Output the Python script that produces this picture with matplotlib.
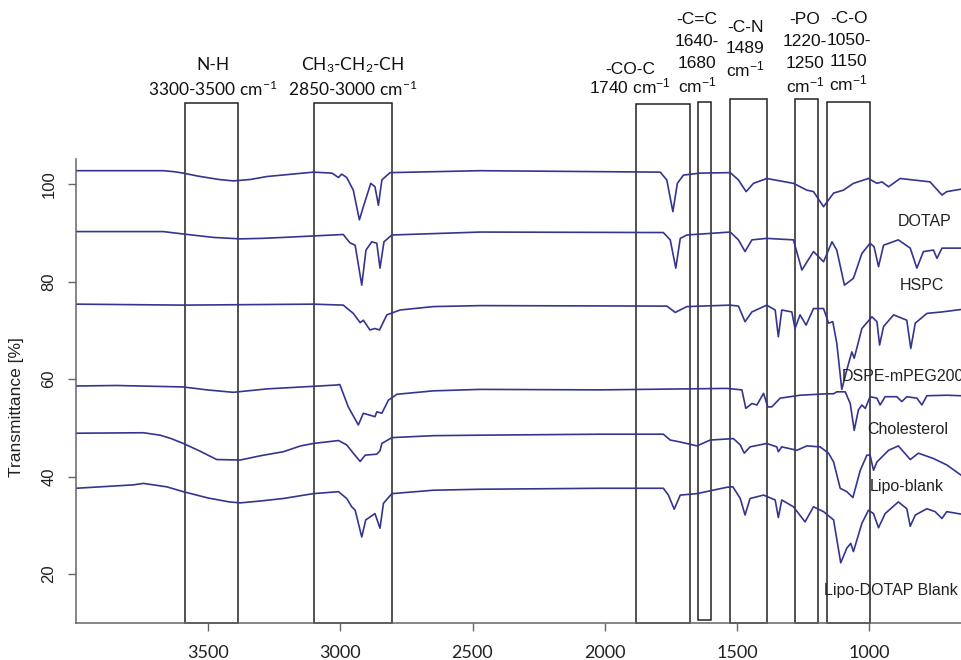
#!/usr/bin/env python3
# -*- coding: utf-8 -*-
"""
FTIR spectra of the liposome components, stacked, with the assigned
absorption bands marked by boxes.
"""

import matplotlib
matplotlib.use('Agg')
import matplotlib.pyplot as PyPlot
from matplotlib.patches import Rectangle

PyPlot.rcParams['mathtext.default'] = 'regular'

# Spectra: wavenumber [cm-1] and transmittance [%]
dotapWn = [4000, 3670, 3630, 3594, 3540, 3460, 3405, 3340, 3278, 3200,
           3102, 3032, 3007, 2995, 2976,
           2951, 2928, 2913, 2885, 2869, 2856, 2843, 2812, 2471, 1790,
           1765, 1742, 1725, 1702, 1639, 1525, 1494, 1465, 1437, 1387,
           1286, 1235, 1210, 1172, 1134, 1097, 1059, 1002, 970, 951,
           926, 882, 769, 724, 706, 652]
dotapT = [102.8, 102.8, 102.6, 102.3, 101.7, 101.0, 100.7, 101.0, 101.6, 102.0,
          102.5, 102.3, 101.4, 102.1, 101.4,
          98.8, 92.7, 95.4, 100.2, 99.5, 95.7, 100.9, 102.4, 102.8, 102.5,
          100.9, 94.4, 100.2, 101.9, 102.3, 102.4, 100.9, 98.5, 100.2, 101.2,
          100.2, 98.8, 98.5, 95.4, 98.2, 98.8, 100.2, 101.2, 100.2, 100.5,
          99.5, 101.2, 100.5, 97.8, 98.5, 99.0]

hspcWn = [4000, 3670, 3594, 3480, 3379, 3300, 3216, 2989, 2964, 2944,
          2919, 2903,
          2881, 2862, 2850, 2835, 2805, 2471, 1778, 1752, 1731, 1714,
          1689, 1525, 1494, 1469, 1443, 1387, 1286, 1254, 1210, 1172,
          1140, 1122, 1093, 1059, 1027, 996, 981, 964, 945, 889,
          844, 819, 794, 756, 743, 724, 693, 652]
hspcT = [90.3, 90.3, 89.8, 89.1, 88.8, 88.9, 89.1, 89.7, 88.0, 87.5,
         79.3, 86.5,
         88.2, 87.9, 82.8, 88.2, 89.6, 90.2, 90.1, 88.6, 82.8, 88.9,
         89.6, 90.2, 88.6, 86.2, 88.6, 88.9, 88.6, 82.4, 86.2, 84.1,
         88.2, 86.5, 79.3, 80.7, 85.8, 87.9, 87.2, 83.1, 87.5, 88.6,
         86.9, 82.8, 86.2, 86.5, 84.8, 86.9, 86.9, 86.9]

dspeWn = [4000, 3594, 3102, 2989, 2951, 2925, 2913, 2888, 2869, 2852,
          2824, 2774, 2648, 2471, 1765, 1733, 1689, 1525, 1494, 1469,
          1443, 1387, 1355, 1343, 1330, 1292, 1280, 1261, 1238, 1210,
          1172, 1153, 1137, 1122, 1103, 1084, 1065, 1056, 1027, 989,
          970, 960, 945, 907, 857, 842, 825, 781, 724, 652]
dspeT = [75.4, 75.2, 75.4, 75.2, 73.5, 71.6, 72.1, 70.1, 70.4, 70.1,
         73.2, 74.2, 74.9, 75.1, 75.0, 73.7, 74.9, 75.2, 75.0, 71.8,
         73.8, 75.2, 74.2, 68.7, 74.2, 73.8, 70.4, 73.2, 71.1, 74.5,
         74.5, 71.5, 71.8, 67.4, 57.9, 61.9, 65.6, 64.3, 70.4, 72.8,
         71.8, 67.0, 70.8, 73.2, 72.1, 66.3, 71.5, 73.5, 73.8, 74.3]

cholWn = [4000, 3846, 3594, 3505, 3405, 3278, 3014, 3002, 2970, 2932,
          2913, 2888, 2869, 2862, 2843, 2818, 2786, 2648, 2471, 2017,
          1538, 1481, 1466, 1443, 1424, 1399, 1383, 1368, 1336, 1261,
          1160, 1134, 1122, 1090, 1071, 1056, 1040, 1027, 1014, 996,
          970, 958, 939, 895, 876, 857, 819, 800, 781, 706, 652]
cholT = [58.6, 58.7, 58.4, 57.8, 57.3, 58.0, 58.8, 58.9, 54.3, 50.6,
         53.0, 52.6, 52.3, 53.3, 53.0, 55.7, 56.9, 57.6, 57.9, 57.8,
         58.1, 57.8, 54.0, 55.0, 54.7, 57.1, 54.3, 54.3, 56.1, 56.7,
         57.0, 57.0, 57.4, 57.4, 55.0, 49.5, 53.7, 54.7, 54.0, 56.4,
         56.1, 54.7, 56.4, 56.4, 55.4, 56.4, 56.1, 54.7, 56.6, 56.7, 56.6]

lipoWn = [4000, 3745, 3682, 3640, 3594, 3530, 3468, 3379, 3300, 3216,
          3150, 3102, 3007, 2976,
          2951, 2925, 2906, 2862, 2850, 2843, 2805, 2648, 2471, 2017,
          1778, 1752, 1714, 1651, 1601, 1513, 1487, 1472, 1450, 1387,
          1349, 1343, 1330, 1273, 1235, 1185, 1153, 1134, 1109, 1084,
          1061, 1033, 1008, 996, 983, 970, 926, 889, 844, 813,
          756, 706, 652]
lipoT = [48.9, 49.0, 48.5, 47.8, 46.8, 45.2, 43.5, 43.4, 44.3, 45.1,
         46.3, 46.8, 47.4, 46.5,
         44.8, 43.1, 44.4, 44.6, 45.3, 46.8, 48.0, 48.4, 48.5, 48.7,
         48.7, 47.5, 47.1, 46.3, 47.5, 47.8, 46.5, 44.8, 46.1, 46.8,
         46.1, 45.1, 46.1, 45.4, 46.3, 46.1, 44.8, 43.0, 37.6, 36.9,
         35.7, 41.3, 44.4, 44.4, 41.3, 43.0, 45.4, 46.3, 43.5, 44.8,
         43.7, 42.4, 40.3]

lipoDotapWn = [4000, 3783, 3745, 3657, 3594, 3500, 3420, 3379, 3300, 3216,
               3102, 3007, 2976,
               2957, 2944, 2919, 2904, 2869, 2850, 2837, 2805, 2648, 2471,
               2017, 1778, 1759, 1737, 1714, 1651, 1538, 1515, 1487, 1469,
               1450, 1399, 1355, 1343, 1330, 1286, 1242, 1210, 1172, 1134,
               1107, 1084, 1069, 1059, 1027, 1002, 983, 964, 939, 889,
               857, 844, 825, 781, 750, 724, 706, 652]
lipoDotapT = [37.6, 38.3, 38.6, 37.9, 36.9, 35.6, 34.8, 34.6, 35.0, 35.5,
              36.5, 36.9, 35.5,
              33.8, 33.1, 27.6, 31.1, 32.4, 29.4, 34.5, 36.5, 37.2, 37.4,
              37.6, 37.6, 36.2, 33.3, 36.2, 36.5, 37.8, 37.9, 35.5, 32.1,
              35.5, 36.2, 35.2, 31.6, 35.2, 33.8, 30.7, 33.8, 32.8, 31.1,
              22.3, 25.3, 26.3, 24.6, 30.4, 33.1, 32.4, 29.5, 32.4, 34.8,
              33.4, 29.8, 32.1, 33.4, 32.8, 31.4, 32.8, 32.3]

sampleNames = ['DOTAP', 'HSPC', 'DSPE-mPEG2000', 'Cholesterol',
               'Lipo-blank', 'Lipo-DOTAP Blank']

# Band boxes as drawn (wavenumber range) and their captions
bandHigh = [3587, 3098, 1880, 1647, 1525, 1279, 1160]
bandLow = [3386, 2803, 1678, 1598, 1387, 1192, 995]
bandText = [['N-H', '3300-3500 cm$^{-1}$'],
            ['CH$_3$-CH$_2$-CH', '2850-3000 cm$^{-1}$'],
            ['-CO-C', '1740 cm$^{-1}$'],
            ['-C=C', '1640-', '1680', 'cm$^{-1}$'],
            ['-C-N', '1489', 'cm$^{-1}$'],
            ['-PO', '1220-', '1250', 'cm$^{-1}$'],
            ['-C-O', '1050-', '1150', 'cm$^{-1}$']]

xTicks = [3500, 3000, 2500, 2000, 1500, 1000]
yTicks = [20, 40, 60, 80, 100]

lineColor = '#34358f'

figure = PyPlot.figure(figsize = (9.61, 6.60), dpi = 100)
axes = figure.add_axes([0.0791, 0.0565, 0.9209, 0.7026])

spectra = [(dotapWn, dotapT), (hspcWn, hspcT), (dspeWn, dspeT),
           (cholWn, cholT), (lipoWn, lipoT), (lipoDotapWn, lipoDotapT)]
for wn, t in spectra:
    axes.plot(wn, t, color = lineColor, linewidth = 1.2)

# Sample names (left edge wavenumber, transmittance)
namePos = [(890, 92.3), (882, 79.3), (1103, 60.6), (1008, 49.7),
           (996, 38.0), (1172, 16.7)]
for name, (x, y) in zip(sampleNames, namePos):
    axes.text(x, y, name, ha = 'left', va = 'center', fontsize = 11.5,
              family = 'Liberation Sans', color = '#222222')

# Band boxes, reaching above the plotting area
boxTop = [116.7, 116.7, 116.5, 117.0, 117.6, 117.5, 116.9]
boxBottom = [10, 10, 10, 10.5, 10, 10, 10]
for lo, hi, top, bottom in zip(bandLow, bandHigh, boxTop, boxBottom):
    axes.add_patch(Rectangle((lo, bottom), hi - lo, top - bottom,
                             fill = False, edgecolor = '#222222',
                             linewidth = 1.1, clip_on = False))

# Band captions: centre wavenumber, bottom line y, line step, font
captionPos = [(3482, 119.6, 4.93, 'Lato'), (2952, 119.6, 4.93, 'Lato'),
              (1904, 120.0, 3.6, 'Liberation Sans'),
              (1650, 120.4, 4.46, 'Liberation Sans'),
              (1469, 123.5, 4.3, 'Liberation Sans'),
              (1242, 120.4, 4.46, 'Liberation Sans'),
              (1077, 120.7, 4.45, 'Liberation Sans')]
for lines, (x, y0, step, font) in zip(bandText, captionPos):
    n = len(lines)
    for i, line in enumerate(lines):
        axes.text(x, y0 + (n - 1 - i) * step, line, ha = 'center',
                  va = 'center', fontsize = 12.5, family = font,
                  color = '#111111')

# Axes in the style of the original
axes.set_xlim(4000, 652)
axes.set_ylim(10, 105.2)
axes.set_xticks(xTicks)
axes.set_yticks(yTicks)
axes.spines['top'].set_visible(False)
axes.spines['right'].set_visible(False)
for side in ['left', 'bottom']:
    axes.spines[side].set_color('#666666')
    axes.spines[side].set_linewidth(1.1)
axes.tick_params(direction = 'out', length = 6, width = 1.0,
                 color = '#666666')
axes.tick_params(axis = 'x', pad = 10)
axes.tick_params(axis = 'y', pad = 8)
for label in axes.get_xticklabels():
    label.set_family('Lato')
    label.set_fontsize(13)
    label.set_color('#222222')
for label in axes.get_yticklabels():
    label.set_family('Liberation Sans')
    label.set_fontsize(12)
    label.set_rotation(90)
    label.set_va('center')
    label.set_color('#222222')

axes.set_ylabel('Transmittance [%]', family = 'Liberation Sans',
                fontsize = 12.5, color = '#222222')
axes.yaxis.set_label_coords(-0.0585, 0.466)

figure.savefig('out.png', format = 'png')
